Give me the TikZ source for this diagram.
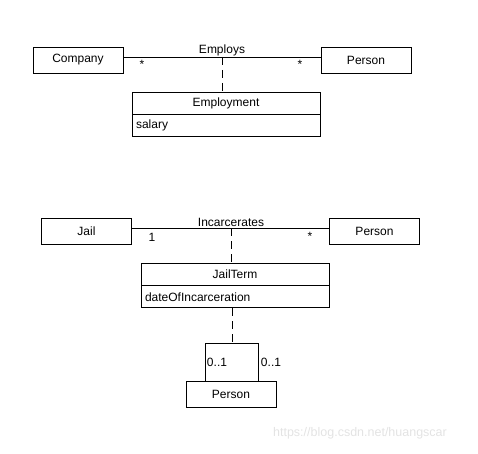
\documentclass[tikz,border=0pt]{standalone}
\usepackage{fontspec}
\setmainfont{Liberation Sans}
\usetikzlibrary{positioning}
\definecolor{mark}{HTML}{E3E3E3}
\tikzset{cls/.style={draw,line width=0.8pt,minimum width=90pt,minimum height=26pt,inner sep=0pt},
  clsname/.style={draw,line width=0.8pt,minimum width=188pt,minimum height=22pt,inner sep=0pt},
  clsattr/.style={draw,line width=0.8pt,minimum width=188pt,minimum height=22pt,inner sep=4pt,text width=180pt,align=left},
  link/.style={line width=0.8pt},
  assoc/.style={line width=0.8pt,dash pattern=on 8pt off 5pt}}

\begin{document}
\begin{tikzpicture}[x=1pt,y=1pt,font=\fontsize{12}{14}\selectfont]
    \useasboundingbox(0,0)rectangle(478,453);
    % Employs
    \node[cls](company)at(78,393){Company};
    \node[cls](person1)at(366,393){Person};
    \coordinate(employs)at(222,396);
    \draw[link]([yshift=3pt]company.east)--([yshift=3pt]person1.west);
    \node[above=0pt of employs,inner sep=1pt](employslabel){Employs};
    \node(star1)at(142,389){*};\node(star2)at(300,389){*};
    \node[clsname](employment)at(226,350){Employment};
    \node[clsattr,below=0pt of employment](employmentattr){salary};
    \draw[assoc](employs)--(employs|-employment.north);
    % Incarcerates
    \node[cls](jail)at(86.5,222){Jail};
    \node[cls](person2)at(374.5,222){Person};
    \coordinate(incarc)at(231,225);
    \draw[link]([yshift=3pt]jail.east)--([yshift=3pt]person2.west);
    \node[above=0pt of incarc,inner sep=1pt](incarclabel){Incarcerates};
    \node(one)at(152,216){1};\node(star3)at(310,217){*};
    \node[clsname](jailterm)at(235,179){JailTerm};
    \node[clsattr,below=0pt of jailterm](jailtermattr){dateOfIncarceration};
    \draw[assoc](incarc)--(incarc|-jailterm.north);
    % self association
    \node[cls](person3)at(231,59){Person};
    \coordinate(loopL)at(205,110);\coordinate(loopR)at(258,110);
    \draw[link](loopL|-person3.north)--(loopL)--(loopR)--(loopR|-person3.north);
    \draw[assoc]([xshift=-3pt]jailtermattr.south)--([xshift=-3pt]jailtermattr.south|-loopL);
    \node(mult1)at(217,91){0..1};\node(mult2)at(271,91){0..1};
    \node[text=mark,font=\fontsize{12.5}{14}\selectfont](wm)at(360,20){https://blog.csdn.net/huangscar};
  \end{tikzpicture}
\end{document}
